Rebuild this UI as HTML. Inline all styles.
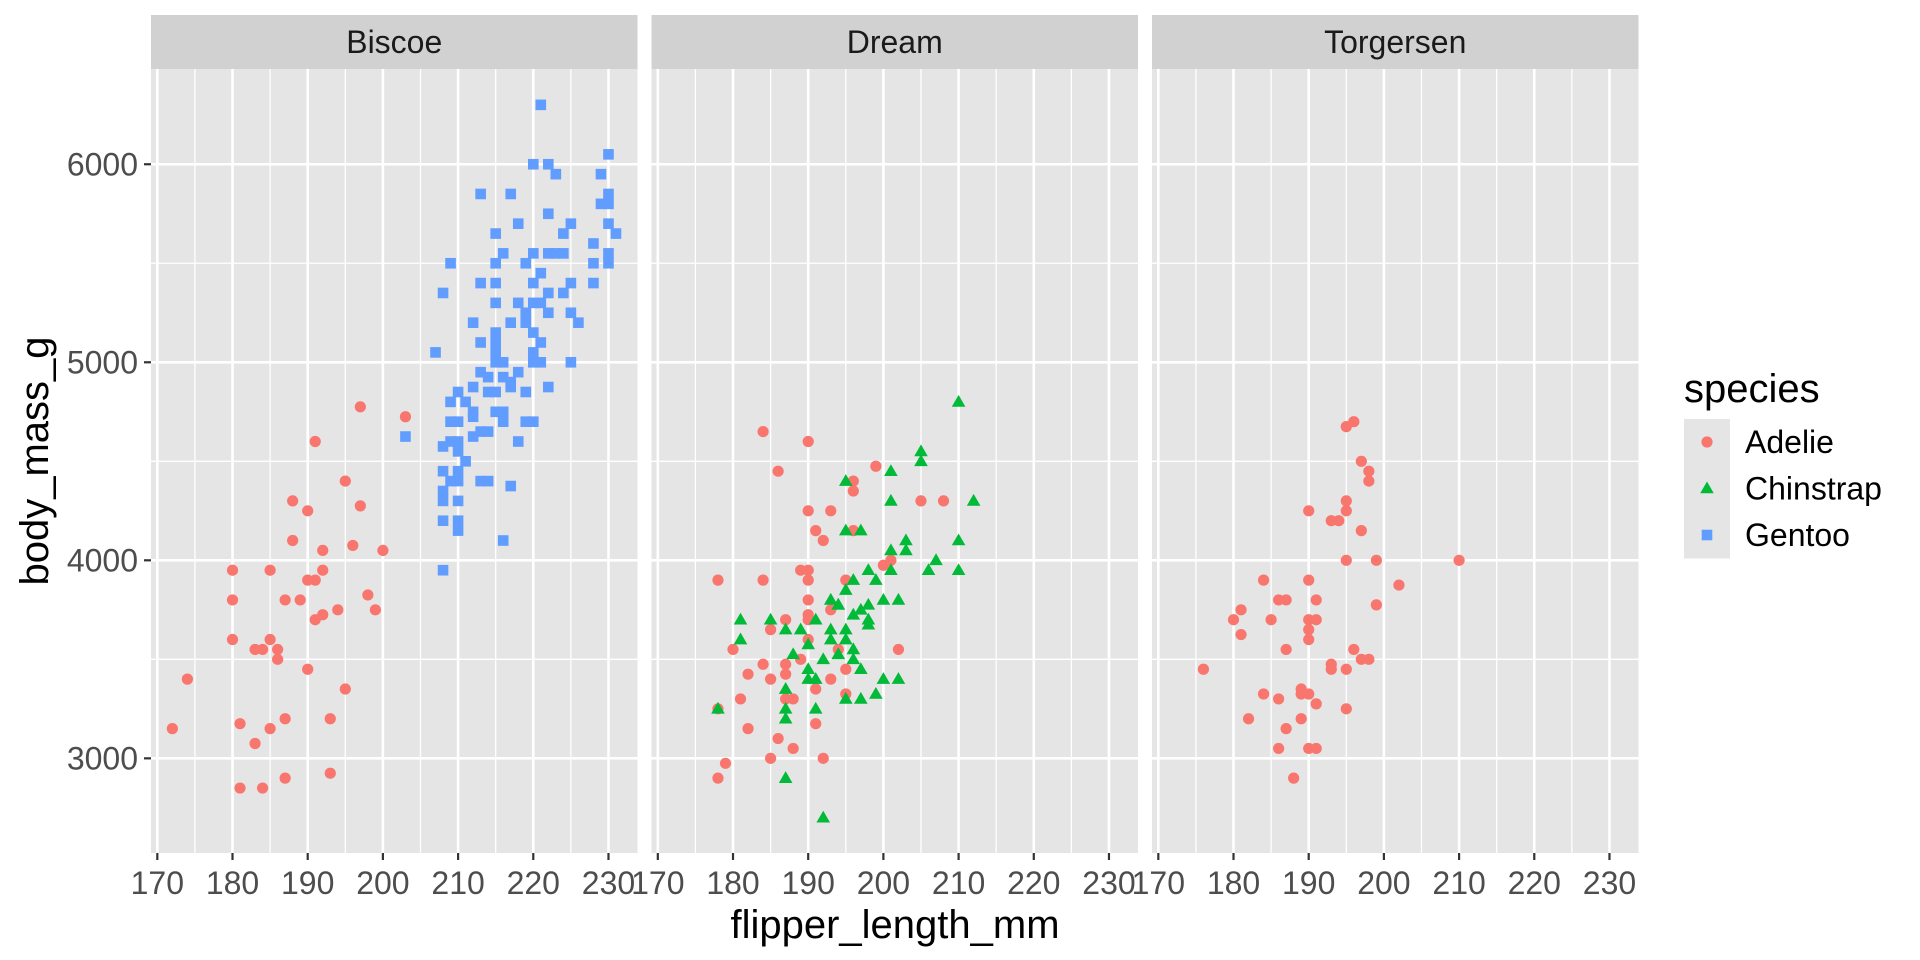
<!DOCTYPE html>
<html><head><meta charset="utf-8"><title>Penguins facet chart</title>
<style>
html,body{margin:0;padding:0;background:#fff;}
svg{display:block;font-family:"Liberation Sans",Arial,sans-serif;}
</style></head>
<body>
<svg id="chart" width="1920" height="960" viewBox="0 0 1920 960"></svg>
<script>
// ---- data ----
const panels = ["Biscoe", "Dream", "Torgersen"];
const speciesNames = ["Adelie", "Chinstrap", "Gentoo"];
const xTicks = [170, 180, 190, 200, 210, 220, 230];
const yTicks = [3000, 4000, 5000, 6000];

const biscoeAdelieFlipper = [172,174,180,180,180,181,181,183,183,184,184,185,185,185,186,186,187,187,187,188,188,189,190,190,190,191,191,191,192,192,192,193,193,194,195,195,196,197,197,198,199,200,203];
const biscoeAdelieMass    = [3150,3400,3950,3800,3600,2850,3175,3550,3075,3550,2850,3950,3600,3150,3550,3500,3800,3200,2900,4300,4100,3800,4250,3900,3450,4600,3900,3700,4050,3950,3725,3200,2925,3750,4400,3350,4075,4775,4275,3825,3750,4050,4725];

const biscoeGentooFlipper = [221,230,220,222,223,229,213,217,230,229,230,222,218,225,230,215,224,231,228,216,220,222,223,224,230,230,209,215,219,228,221,213,215,220,225,228,208,222,224,215,218,220,221,219,222,225,212,217,219,226,220,213,215,215,215,215,221,207,220,220,221,216,225,213,214,216,218,217,217,212,210,214,215,219,222,209,211,212,212,215,216,216,209,210,219,220,203,213,214,212,209,210,208,210,218,211,208,210,209,210,213,214,217,208,208,210,208,210,210,216,208];
const biscoeGentooMass    = [6300,6050,6000,6000,5950,5950,5850,5850,5850,5800,5800,5750,5700,5700,5700,5650,5650,5650,5600,5550,5550,5550,5550,5550,5550,5500,5500,5500,5500,5500,5450,5400,5400,5400,5400,5400,5350,5350,5350,5300,5300,5300,5300,5250,5250,5250,5200,5200,5200,5200,5150,5100,5150,5100,5050,5000,5100,5050,5050,5000,5000,5000,5000,4950,4925,4925,4950,4900,4875,4875,4850,4850,4850,4850,4875,4800,4800,4750,4725,4750,4750,4700,4700,4700,4700,4700,4625,4650,4650,4625,4600,4600,4575,4550,4600,4500,4450,4450,4400,4400,4400,4400,4375,4350,4300,4300,4200,4200,4150,4100,3950];

const dreamAdelieFlipper = [184,190,186,190,193,191,192,189,190,178,184,190,190,193,190,190,187,185,190,180,189,184,187,182,185,187,193,191,181,187,188,178,191,182,186,188,185,192,179,178,199,196,196,205,208,196,201,200,195,202,195,195,194];
const dreamAdelieMass    = [4650,4600,4450,4250,4250,4150,4100,3950,3950,3900,3900,3900,3800,3750,3725,3700,3700,3650,3600,3550,3500,3475,3475,3425,3400,3425,3400,3350,3300,3300,3300,3250,3175,3150,3100,3050,3000,3000,2975,2900,4475,4400,4350,4300,4300,4150,4000,3975,3900,3550,3450,3325,3550];

const dreamChinstrapFlipper = [193,194,181,185,191,187,189,193,181,190,193,188,194,192,190,190,191,187,178,187,187,191,187,192,210,205,205,201,195,201,212,195,197,203,210,201,203,207,198,201,206,210,196,199,195,200,202,194,198,197,198,198,196,195,195,196,194,196,197,200,202,199,195,197];
const dreamChinstrapMass    = [3800,3775,3700,3700,3700,3650,3650,3650,3600,3575,3600,3525,3525,3500,3450,3400,3400,3350,3250,3250,3200,3250,2900,2700,4800,4550,4500,4450,4400,4300,4300,4150,4150,4100,4100,4050,4050,4000,3950,3950,3950,3950,3900,3900,3850,3800,3800,3775,3775,3750,3700,3675,3725,3650,3600,3550,3525,3500,3450,3400,3400,3325,3300,3300];

const torgersenAdelieFlipper = [196,195,197,198,198,195,195,190,193,194,197,195,199,184,190,186,187,191,199,181,180,185,190,191,190,190,181,187,196,197,198,193,193,195,176,189,189,190,184,186,191,195,182,189,187,186,190,191,188,202,210];
const torgersenAdelieMass    = [4700,4675,4500,4450,4400,4300,4250,4250,4200,4200,4150,4000,4000,3900,3900,3800,3800,3800,3775,3750,3700,3700,3700,3700,3650,3600,3625,3550,3550,3500,3500,3475,3450,3450,3450,3350,3325,3325,3325,3300,3275,3250,3200,3200,3150,3050,3050,3050,2900,3875,4000];

// ---- layout ----
const panelLeft = [151, 651.5, 1152];
const panelW = 486.5, panelTop = 69, panelBottom = 853;
const xMin = 169.16, xMax = 233.86, yMin = 2522, yMax = 6481;
const colors = {Adelie:"#F8766D", Chinstrap:"#00BA38", Gentoo:"#619CFF"};
const NS = "http://www.w3.org/2000/svg";
const svg = document.getElementById("chart");

function xScale(p, v){ return panelLeft[p] + (v - xMin) / (xMax - xMin) * panelW; }
function yScale(v){ return panelBottom - (v - yMin) / (yMax - yMin) * (panelBottom - panelTop); }
function mk(tag, attrs, parent){
  const e = document.createElementNS(NS, tag);
  for (const k in attrs) e.setAttribute(k, attrs[k]);
  (parent || svg).appendChild(e);
  return e;
}

panels.forEach((name, p) => {
  const g = mk("g", {});
  
  
  const bg = mk("rect", {x: panelLeft[p], y: panelTop, width: panelW, height: panelBottom - panelTop, fill: "#E5E5E5"}, g);
  
  
  [175,185,195,205,215,225].forEach(v => {
    const l = mk("line", {x1: xScale(p, v), x2: xScale(p, v), y1: panelTop, y2: panelBottom, stroke: "#FFFFFF", "stroke-width": 1.3}, g);
    
    
  });
  [3500,4500,5500].forEach(v => {
    const l = mk("line", {x1: panelLeft[p], x2: panelLeft[p] + panelW, y1: yScale(v), y2: yScale(v), stroke: "#FFFFFF", "stroke-width": 1.3}, g);
    
    
  });
  xTicks.forEach(v => {
    const l = mk("line", {x1: xScale(p, v), x2: xScale(p, v), y1: panelTop, y2: panelBottom, stroke: "#fff", "stroke-width": 2.6}, g);
    
    
    const t = mk("line", {x1: xScale(p, v), x2: xScale(p, v), y1: panelBottom, y2: panelBottom + 7, stroke: "#333", "stroke-width": 2.2});
    
    
    const tx = mk("text", {x: xScale(p, v), y: panelBottom + 41, "text-anchor": "middle", "font-size": 32, fill: "#4D4D4D"});
    tx.textContent = v;
    
    
  });
  yTicks.forEach(v => {
    const l = mk("line", {x1: panelLeft[p], x2: panelLeft[p] + panelW, y1: yScale(v), y2: yScale(v), stroke: "#fff", "stroke-width": 2.6}, g);
    
    
  });
  const s = mk("rect", {x: panelLeft[p], y: 15, width: panelW, height: 54, fill: "#D1D1D1"});
  
  
  const st = mk("text", {x: panelLeft[p] + panelW / 2, y: 53, "text-anchor": "middle", "font-size": 32, fill: "#1A1A1A"});
  st.textContent = name;
  
  
});

yTicks.forEach(v => {
  const t = mk("line", {x1: 144, x2: 151, y1: yScale(v), y2: yScale(v), stroke: "#333", "stroke-width": 2.2});
  
  
  const tx = mk("text", {x: 138, y: yScale(v) + 11, "text-anchor": "end", "font-size": 32, fill: "#4D4D4D"});
  tx.textContent = v;
  
  
});

function marker(species, cx, cy, parent){
  let e;
  const c = colors[species];
  if (species === "Adelie") e = mk("circle", {cx: cx, cy: cy, r: 5.6, fill: c}, parent);
  else if (species === "Gentoo") e = mk("rect", {x: cx - 5.3, y: cy - 5.3, width: 10.6, height: 10.6, fill: c}, parent);
  else e = mk("polygon", {points: `${cx-6.8},${cy+4.8} ${cx+6.8},${cy+4.8} ${cx},${cy-7}`, fill: c}, parent);
  return e;
}
function series(p, species, xs, ys){
  const g = mk("g", {});
  
  
  xs.forEach((x, i) => {
    const m = marker(species, xScale(p, x), yScale(ys[i]), g);
    
    
  });
}
series(0, "Adelie", biscoeAdelieFlipper, biscoeAdelieMass);
series(0, "Gentoo", biscoeGentooFlipper, biscoeGentooMass);
series(1, "Adelie", dreamAdelieFlipper, dreamAdelieMass);
series(1, "Chinstrap", dreamChinstrapFlipper, dreamChinstrapMass);
series(2, "Adelie", torgersenAdelieFlipper, torgersenAdelieMass);

const xt = mk("text", {x: 895, y: 938, "text-anchor": "middle", "font-size": 40, fill: "#000"});
xt.textContent = "flipper_length_mm";


const yt = mk("text", {x: 0, y: 0, "text-anchor": "middle", "font-size": 40, fill: "#000", transform: "translate(48,461) rotate(-90)"});
yt.textContent = "body_mass_g";



const lg = mk("g", {});


const lt = mk("text", {x: 1684, y: 402, "font-size": 40, fill: "#000"}, lg);
lt.textContent = "species";


speciesNames.forEach((sp, i) => {
  const cy = 442 + i * 46.5;
  const kb = mk("rect", {x: 1684, y: cy - 23, width: 46, height: 46.5, fill: "#E5E5E5"}, lg);
  
  
  const m = marker(sp, 1707, cy, lg);
  
  
  const t = mk("text", {x: 1745, y: cy + 11, "font-size": 32, fill: "#000"}, lg);
  t.textContent = sp;
  
  
});
</script>
</body></html>
